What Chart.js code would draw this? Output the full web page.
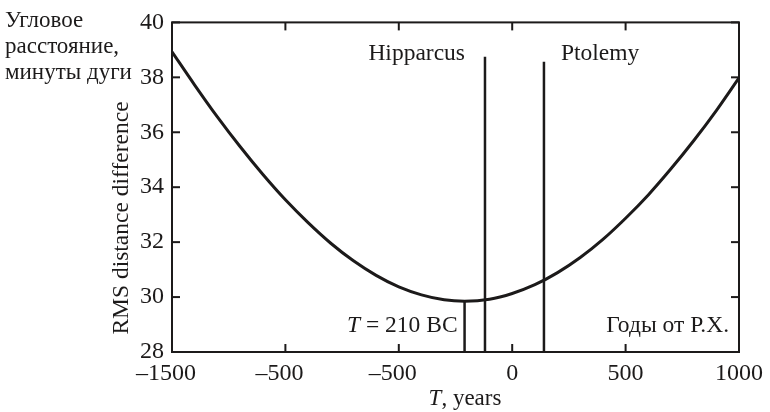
<!DOCTYPE html>
<html>
<head>
<meta charset="utf-8">
<script src="https://cdn.jsdelivr.net/npm/chart.js@4.4.1/dist/chart.umd.min.js"></script>
<style>
  html, body { margin: 0; padding: 0; background: #fff; }
</style>
</head>
<body>
<canvas id="chart" width="770" height="412"></canvas>
<script>
// Data
const years = [-1500, -1400, -1300, -1200, -1100, -1000, -900, -800, -700, -600, -500, -400, -300, -210,
  -100, 0, 100, 200, 300, 400, 500, 600, 700, 800, 900, 1000];
const rmsValues = [38.93, 37.72, 36.56, 35.48, 34.47, 33.54, 32.71, 31.96, 31.32, 30.79, 30.37, 30.08, 29.90, 29.85,
  29.92, 30.13, 30.45, 30.89, 31.44, 32.10, 32.87, 33.72, 34.67, 35.69, 36.79, 37.98];

// vertical markers: best fit, Hipparchus, Ptolemy
const markerYears = [-210, -120, 140];
const markerTops = [29.85, 38.75, 38.57];

// the reference repeats "-500" for the second tick
const xTickLabels = ['\u20131500', '\u2013500', '\u2013500', '0', '500', '1000'];

const INK = '#1c1a1a';
const FONT = "'Liberation Serif', 'DejaVu Serif', serif";

const curve = years.map((y, i) => ({ x: y, y: rmsValues[i] }));
const markerSets = markerYears.map((yr, i) => ({
  data: [{ x: yr, y: 28 }, { x: yr, y: markerTops[i] }],
  borderColor: INK, borderWidth: 2.5, pointRadius: 0, showLine: true, tension: 0
}));

// Frame, inward ticks and annotations
const decorations = {
  id: 'decorations',
  afterDraw(chart) {
    const ctx = chart.ctx, a = chart.chartArea;
    const xs = chart.scales.x, ys = chart.scales.y;
    ctx.save();
    ctx.strokeStyle = INK;
    ctx.fillStyle = INK;
    ctx.lineWidth = 2;
    ctx.strokeRect(a.left, a.top, a.right - a.left, a.bottom - a.top);

    const seg = (x1, y1, x2, y2) => { ctx.beginPath(); ctx.moveTo(x1, y1); ctx.lineTo(x2, y2); ctx.stroke(); };
    xs.ticks.forEach(t => {
      const px = xs.getPixelForValue(t.value);
      seg(px, a.bottom, px, a.bottom - 8);
      seg(px, a.top, px, a.top + 8);
    });
    ys.ticks.forEach(t => {
      const py = ys.getPixelForValue(t.value);
      seg(a.left, py, a.left + 8, py);
      seg(a.right, py, a.right - 8, py);
    });

    ctx.textBaseline = 'alphabetic';
    ctx.font = '23px ' + FONT;

    // Russian axis label, top left
    ctx.textAlign = 'left';
    ['Угловое', 'расстояние,', 'минуты дуги'].forEach((s, i) => ctx.fillText(s, 5, 27 + i * 26));

    // annotations
    ctx.font = '23.5px ' + FONT;
    ctx.textAlign = 'right';
    ctx.fillText('Hipparcus', xs.getPixelForValue(markerYears[1]) - 20, 60);
    ctx.fillText('Годы от Р.Х.', a.right - 10, 332);
    ctx.textAlign = 'left';
    ctx.fillText('Ptolemy', xs.getPixelForValue(markerYears[2]) + 17, 60);

    // "T = 210 BC" with italic T
    const rest = ' = 210 BC';
    const restW = ctx.measureText(rest).width;
    const endX = xs.getPixelForValue(markerYears[0]) - 7;
    ctx.textAlign = 'right';
    ctx.fillText(rest, endX, 332);
    ctx.font = 'italic 23.5px ' + FONT;
    ctx.fillText('T', endX - restW, 332);

    // x-axis title "T, years"
    ctx.font = '23px ' + FONT;
    const yrs = ', years';
    const yrsW = ctx.measureText(yrs).width;
    ctx.font = 'italic 23px ' + FONT;
    const tW = ctx.measureText('T').width;
    const startX = 465 - (yrsW + tW) / 2;
    ctx.textAlign = 'left';
    ctx.fillText('T', startX, 405);
    ctx.font = '23px ' + FONT;
    ctx.fillText(yrs, startX + tW, 405);

    // y-axis title
    ctx.translate(122, 218);
    ctx.rotate(-Math.PI / 2);
    ctx.textAlign = 'center';
    ctx.textBaseline = 'middle';
    ctx.font = '23.5px ' + FONT;
    ctx.fillText('RMS distance difference', 0, 0);
    ctx.restore();
  }
};

new Chart(document.getElementById('chart'), {
  type: 'scatter',
  data: {
    datasets: [
      { data: curve, borderColor: INK, borderWidth: 3, pointRadius: 0, showLine: true,
        cubicInterpolationMode: 'monotone' },
      ...markerSets
    ]
  },
  options: {
    responsive: false,
    animation: false,
    layout: { padding: { top: 16, right: 28, left: 0, bottom: 0 } },
    plugins: { legend: { display: false }, tooltip: { enabled: false } },
    scales: {
      x: {
        type: 'linear', min: -1500, max: 1000,
        border: { display: false },
        grid: { display: false, drawTicks: false },
        afterFit: s => { s.height = 60; },
        ticks: {
          stepSize: 500, padding: 7, color: INK, maxRotation: 0,
          font: { family: FONT, size: 24 },
          // en space after negatives keeps the digits centred on the tick, as in the reference
          callback: (v, i) => xTickLabels[i] + (xTickLabels[i].startsWith('\u2013') ? '\u2002' : '')
        }
      },
      y: {
        min: 28, max: 40,
        border: { display: false },
        grid: { display: false, drawTicks: false },
        afterFit: s => { s.width = 172; },
        ticks: { stepSize: 2, padding: 8, color: INK, font: { family: FONT, size: 24 } }
      }
    }
  },
  plugins: [decorations]
});
</script>
</body>
</html>
